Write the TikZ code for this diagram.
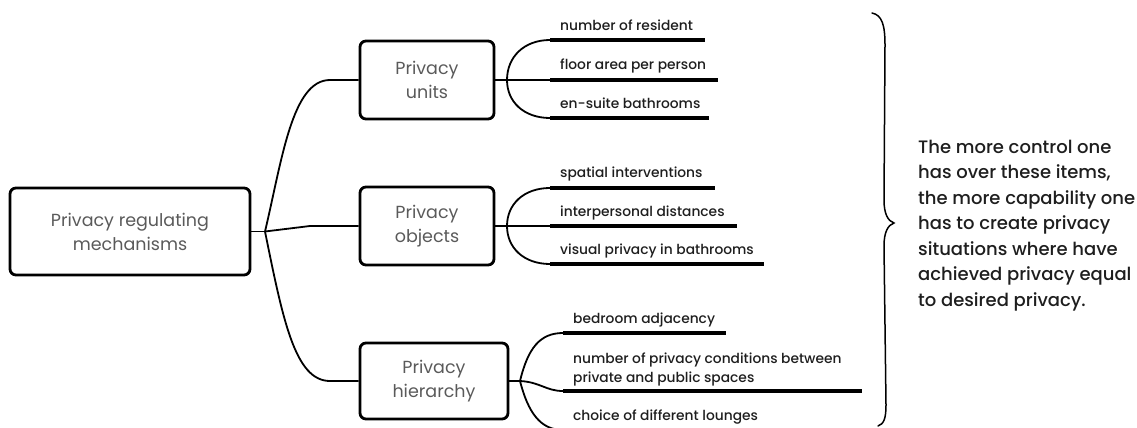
\documentclass[tikz,border=0pt]{standalone}
\usepackage{fontspec}
\setmainfont{Poppins}
\newfontfamily\medfont{Poppins Medium}
\definecolor{txtgray}{HTML}{5A5A5A}
\definecolor{txtdark}{HTML}{1E1E1E}
\begin{document}
\begin{tikzpicture}[x=1pt,y=-1pt,
  box/.style={draw=black, line width=2.8pt, rounded corners=6pt, align=center,
    text=txtgray, font=\fontsize{17.5}{24}\selectfont, inner sep=0pt},
  conn/.style={line width=1.8pt},
  uline/.style={line width=3.6pt},
  item/.style={anchor=base west, font=\medfont\fontsize{13.8}{19}\selectfont, text=txtdark, inner sep=0pt, align=left},
  note/.style={anchor=base west, font=\medfont\fontsize{18}{25.5}\selectfont, text=txtdark, inner sep=0pt, align=left},
  brace/.style={line width=1.5pt, line cap=round}]
\useasboundingbox (0,0) rectangle (1137,428);
\clip (0,0) rectangle (1137,428);

% main boxes
\node[box, minimum width=240pt, minimum height=87pt] (root) at (130,231.5) {Privacy regulating\\mechanisms};
\node[box, minimum width=134pt, minimum height=78pt] (units) at (427,80) {Privacy\\units};
\node[box, minimum width=134pt, minimum height=78pt] (objects) at (427,226) {Privacy\\objects};
\node[box, minimum width=148pt, minimum height=76pt] (hier) at (434,381) {Privacy\\hierarchy};

% branch from root
\coordinate (b) at (265,231.5);
\draw[conn] (root.east) -- (b);
\draw[conn] (b) .. controls (282,160) and (292,80) .. (330,80) -- (units.west);
\draw[conn] (b) -- (310,226) -- (objects.west);
\draw[conn] (b) .. controls (283,320) and (295,381) .. (330,381) -- (hier.west);

% units items
\coordinate (ub) at (507,80);
\coordinate (u1s) at (550,40);  \coordinate (u1e) at (705,40);
\coordinate (u2s) at (550,80);  \coordinate (u2e) at (718,80);
\coordinate (u3s) at (550,118); \coordinate (u3e) at (709,118);
\draw[conn] (units.east) -- (u2s);
\draw[conn] (ub) .. controls (507,57) and (524,40) .. (u1s);
\draw[conn] (ub) .. controls (507,102) and (524,118) .. (u3s);
\draw[uline] (u1s) -- (u1e);
\draw[uline] (u2s) -- (u2e);
\draw[uline] (u3s) -- (u3e);
\node[item] (u1) at (560,31) {number of resident};
\node[item] (u2) at (560,70) {floor area per person};
\node[item] (u3) at (560,108) {en-suite bathrooms};

% objects items
\coordinate (ob) at (507,226);
\coordinate (o1s) at (550,188); \coordinate (o1e) at (715,188);
\coordinate (o2s) at (550,226); \coordinate (o2e) at (737,226);
\coordinate (o3s) at (550,264); \coordinate (o3e) at (764,264);
\draw[conn] (objects.east) -- (o2s);
\draw[conn] (ob) .. controls (507,204) and (524,188) .. (o1s);
\draw[conn] (ob) .. controls (507,248) and (524,264) .. (o3s);
\draw[uline] (o1s) -- (o1e);
\draw[uline] (o2s) -- (o2e);
\draw[uline] (o3s) -- (o3e);
\node[item] (o1) at (560,177) {spatial interventions};
\node[item] (o2) at (560,216) {interpersonal distances};
\node[item] (o3) at (560,254) {visual privacy in bathrooms};

% hierarchy items
\coordinate (hb) at (520,381);
\coordinate (h1s) at (563,333); \coordinate (h1e) at (726,333);
\coordinate (h2s) at (563,391); \coordinate (h2e) at (862,391);
\coordinate (h3s) at (563,430); \coordinate (h3e) at (773,430);
\draw[conn] (hier.east) -- (hb);
\draw[conn] (hb) .. controls (528,348) and (540,333) .. (h1s);
\draw[conn] (hb) .. controls (540,382) and (546,391) .. (h2s);
\draw[conn] (hb) .. controls (528,412) and (540,430) .. (h3s);
\draw[uline] (h1s) -- (h1e);
\draw[uline] (h2s) -- (h2e);
\draw[uline] (h3s) -- (h3e);
\node[item] (h1) at (573,323) {bedroom adjacency};
\node[item] (h2) at (573,382) {number of privacy conditions between\\private and public spaces};
\node[item] (h3) at (573,420) {choice of different lounges};

% brace
\draw[brace] (872,13) .. controls (882,15) and (885,25) .. (885,45) -- (884,200)
  .. controls (884,214) and (888,221) .. (894,223)
  .. controls (888,225) and (884,232) .. (884,246) -- (886,405)
  .. controls (886,418) and (884,424) .. (878,426);

% note (anchor = baseline of last line)
\node[note] (txt) at (918,306) {The more control one\\has over these items,\\the more capability one\\has to create privacy\\situations where have\\achieved privacy equal\\to desired privacy.};
\end{tikzpicture}
\end{document}
